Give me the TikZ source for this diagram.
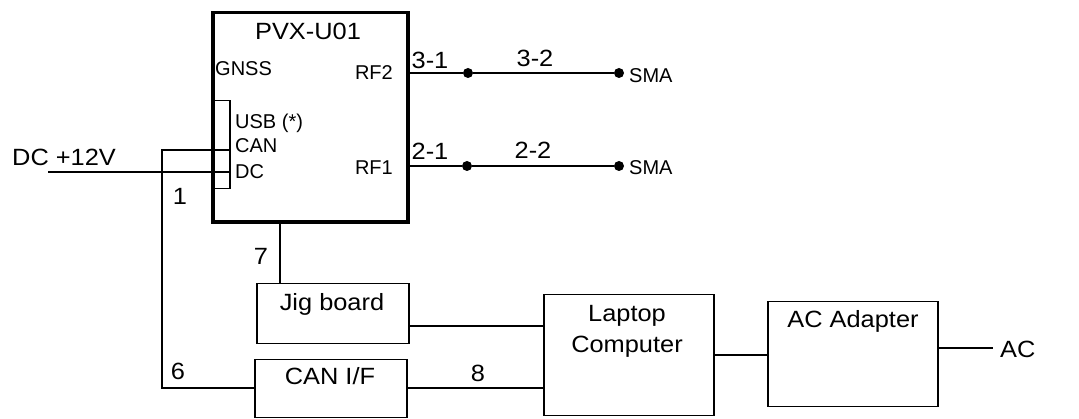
\documentclass[tikz,border=0pt]{standalone}
\usepackage{fontspec}
\setmainfont{Liberation Sans}
\newfontfamily\widefont{Liberation Sans}[FakeStretch=1.08]
\usepackage{tikz}
\usetikzlibrary{positioning}
\tikzset{
  box/.style={draw, line width=1.5pt, anchor=north west, inner sep=0pt},
  wire/.style={line width=1.5pt},
  bigtxt/.style={font=\widefont\fontsize{23.5}{26}\selectfont, inner sep=0pt, anchor=base},
  smalltxt/.style={font=\fontsize{20}{22}\selectfont, inner sep=0pt, anchor=base},
  pindot/.style={circle, fill, inner sep=0pt, minimum size=10pt}
}
\begin{document}
\begin{tikzpicture}[x=1pt, y=-1pt]
        \useasboundingbox (0,0) rectangle (1079,419);
        % module
        \node[box, line width=3.5pt, minimum width=195pt, minimum height=209.5pt] (pvx) at (211,11) {};
        \node[box, minimum width=18pt, minimum height=88pt] (port) at (211,100) {};
        \node[bigtxt] (pvxname) at (308,40) {PVX-U01};
        \node[smalltxt, anchor=base west] (gnss) at (215,76) {GNSS};
        \node[smalltxt, anchor=base east] (rftwo) at (393,79.5) {RF2};
        \node[smalltxt, anchor=base east] (rfone) at (393,174.5) {RF1};
        \node[smalltxt, anchor=base west] (usb) at (235,128.5) {USB (*)};
        \node[smalltxt, anchor=base west] (can) at (235,153) {CAN};
        \node[smalltxt, anchor=base west] (dc) at (235,178.5) {DC};
        % other boxes
        \node[box, minimum width=152pt, minimum height=60pt] (jig) at (256,283) {};
        \node[box, minimum width=152pt, minimum height=58pt] (canif) at (254,359) {};
        \node[box, minimum width=170pt, minimum height=121pt] (laptop) at (543,294) {};
        \node[box, minimum width=170pt, minimum height=105pt] (acadapter) at (767,301) {};
        \node[bigtxt] (jigname) at (332,311) {Jig board};
        \node[bigtxt] (canifname) at (330,385) {CAN I/F};
        \node[bigtxt] (laptopname) at (627,321.5) {Laptop};
        \node[bigtxt] (computername) at (627,352.5) {Computer};
        \node[bigtxt] (acname) at (853,328) {AC Adapter};
        % RF lines
        \node[pindot] (rftwoa) at (468,73) {};
        \node[pindot] (rftwob) at (619,73) {};
        \node[pindot] (rfonea) at (467,166) {};
        \node[pindot] (rfoneb) at (619,166) {};
        \draw[wire] (pvx.east |- rftwoa) -- (rftwoa) -- (rftwob);
        \draw[wire] (pvx.east |- rfonea) -- (rfonea) -- (rfoneb);
        \node[bigtxt] (lthreeone) at (430,68.5) {3-1};
        \node[bigtxt] (lthreetwo) at (535,66.5) {3-2};
        \node[bigtxt] (ltwoone) at (430,159.5) {2-1};
        \node[bigtxt] (ltwotwo) at (533,158.5) {2-2};
        \node[smalltxt, anchor=base west] (smatwo) at (629,82.5) {SMA};
        \node[smalltxt, anchor=base west] (smaone) at (629,174.5) {SMA};
        % power and CAN
        \coordinate (dcin) at (48,172);
        \coordinate (canbend) at (162,388);
        \draw[wire] (dcin) -- (port.east |- dcin);
        \draw[wire] (port.east |- 0,150) -- (canbend |- 0,150) -- (canbend) -- (canif.west |- canbend);
        \node[bigtxt, anchor=base west] (dcname) at (12,165.5) {DC +12V};
        \node[bigtxt] (lone) at (180,205) {1};
        \node[bigtxt] (lsix) at (178,380) {6};
        % links
        \draw[wire] (pvx.south -| 280,0) -- (jig.north -| 280,0);
        \node[bigtxt] (lseven) at (261,265) {7};
        \draw[wire] (jig.east |- 0,326) -- (laptop.west |- 0,326);
        \draw[wire] (canif.east |- canbend) -- (laptop.west |- canbend);
        \node[bigtxt] (leight) at (478,382) {8};
        \draw[wire] (laptop.east |- 0,355) -- (acadapter.west |- 0,355);
        \coordinate (acout) at (993,348);
        \draw[wire] (acadapter.east |- acout) -- (acout);
        \node[bigtxt, anchor=base west] (acin) at (1000,358) {AC};
\end{tikzpicture}
\end{document}
